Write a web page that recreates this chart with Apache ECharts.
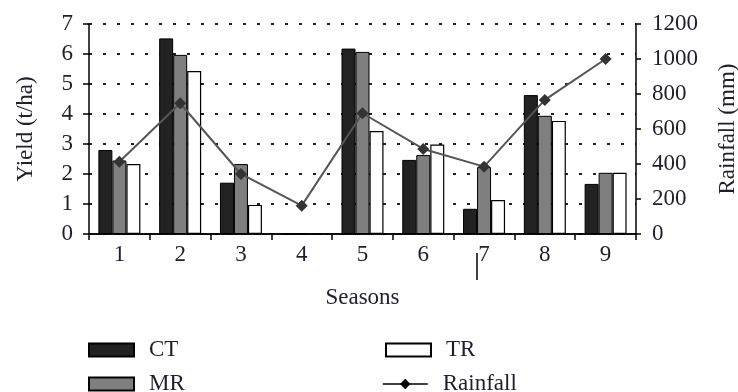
<!DOCTYPE html>
<html><head><meta charset="utf-8">
<script src="https://cdn.jsdelivr.net/npm/echarts@6/dist/echarts.min.js"></script>
<style>html,body{margin:0;padding:0;background:#fff;overflow:hidden}#c{width:738px;height:392px}</style>
</head><body><div id="c"></div>
<script>
const seasons = ['1','2','3','4','5','6','7','8','9'];
const ct = [2.8, 6.52, 1.71, 0, 6.18, 2.47, 0.84, 4.63, 1.67];
const mr = [2.45, 5.97, 2.33, 0, 6.07, 2.63, 2.23, 3.94, 2.04];
const tr = [2.33, 5.43, 0.97, 0, 3.43, 2.98, 1.13, 3.77, 2.04];
const rainfall = [413, 747, 343, 162, 690, 486, 385, 766, 1000];
const yieldTicks = [0,1,2,3,4,5,6,7];
const rainTicks = [0,200,400,600,800,1000,1200];

const FONT = 'Liberation Serif';
const TXT = '#1e1e2e';
const FS = 23;
const chart = echarts.init(document.getElementById('c'), null, {renderer:'canvas'});
const barBase = {type:'bar', barWidth:14, barGap:'0%', yAxisIndex:0, xAxisIndex:0};
function leg(d, left, top){
  return {left:left, top:top, itemWidth:45, itemHeight:13, padding:0,
    textStyle:{fontFamily:FONT, fontSize:FS, color:TXT, padding:[0,0,0,10], lineHeight:26},
    data:[d]};
}
chart.setOption({
  animation:false,
  textStyle:{fontFamily:FONT, color:TXT},
  grid:{left:89, right:102, top:24, bottom:158, outerBoundsMode:'none', containLabel:false},
  legend:[
    leg({name:'CT', icon:'rect'}, 88, 337),
    leg({name:'MR', icon:'rect'}, 88, 371),
    leg({name:'TR', icon:'rect'}, 385, 337),
    leg({name:'Rainfall', lineStyle:{color:'#000', width:1.5}, itemStyle:{color:'#000'}}, 382, 371)
  ],
  xAxis:[
    {type:'category', data:seasons, position:'bottom',
     name:'Seasons', nameLocation:'middle', nameGap:52,
     nameTextStyle:{fontFamily:FONT, fontSize:FS, color:TXT},
     axisLine:{lineStyle:{color:'#000', width:1.5}},
     axisTick:{show:true, alignWithLabel:false, length:6, lineStyle:{color:'#000', width:1.5}},
     axisLabel:{fontFamily:FONT, fontSize:FS, color:TXT, margin:9}},
    {type:'category', data:seasons, position:'top',
     axisLine:{show:true, lineStyle:{color:'#000', width:1.5}},
     axisTick:{show:false}, axisLabel:{show:false}}
  ],
  yAxis:[
    {type:'value', min:0, max:7, interval:1, position:'left',
     name:'Yield (t/ha)', nameLocation:'middle', nameGap:52, nameRotate:90,
     nameTextStyle:{fontFamily:FONT, fontSize:FS, color:TXT},
     axisLine:{show:true, lineStyle:{color:'#000', width:1.5}},
     axisTick:{show:true, length:6, lineStyle:{color:'#000', width:1.5}},
     axisLabel:{fontFamily:FONT, fontSize:FS, color:TXT, margin:16,
       formatter:v=>yieldTicks.includes(v)?String(v):''},
     splitLine:{show:true, lineStyle:{color:'#222', width:2, type:[3,11]}}},
    {type:'value', min:0, max:1200, interval:200, position:'right',
     name:'Rainfall (mm)', nameLocation:'middle', nameGap:80, nameRotate:90,
     nameTextStyle:{fontFamily:FONT, fontSize:FS, color:TXT},
     axisLine:{show:true, lineStyle:{color:'#000', width:1.5}},
     axisTick:{show:true, length:5, lineStyle:{color:'#000', width:1.5}},
     axisLabel:{fontFamily:FONT, fontSize:FS, color:TXT, margin:16,
       formatter:v=>rainTicks.includes(v)?String(v):''},
     splitLine:{show:false}}
  ],
  series:[
    Object.assign({name:'CT', data:ct, itemStyle:{color:'#222', borderColor:'#000', borderWidth:1}}, barBase),
    Object.assign({name:'MR', data:mr, itemStyle:{color:'#7f7f7f', borderColor:'#000', borderWidth:1}}, barBase),
    Object.assign({name:'TR', data:tr, itemStyle:{color:'#fff', borderColor:'#000', borderWidth:1.2}}, barBase),
    {name:'Rainfall', type:'line', yAxisIndex:1, data:rainfall, z:5,
     symbol:'diamond', symbolSize:12, showSymbol:true,
     lineStyle:{color:'#555', width:2}, itemStyle:{color:'#333'}}
  ],
  graphic:[
    {type:'line', shape:{x1:477, y1:253, x2:477, y2:280}, style:{stroke:'#000', lineWidth:1.5}, z:10}
  ]
});
</script></body></html>
